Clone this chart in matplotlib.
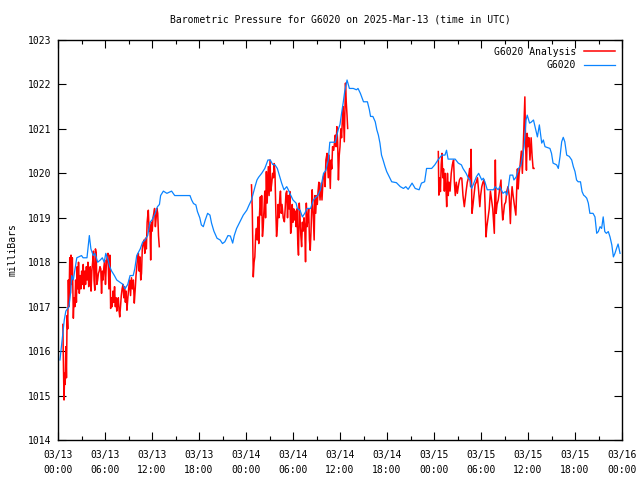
from matplotlib import pyplot as plt
from matplotlib.ticker import MultipleLocator, FixedLocator

# hours since 03/13 00:00 UTC and pressure (mbar)
station_hours = [0.25, 0.5, 0.8, 1.0, 1.4, 1.6, 1.75, 1.95, 2.4, 3.0, 3.2, 3.7, 4.0, 4.2, 4.5, 4.7,
                 5.07, 5.4, 5.66, 5.9, 6.1, 6.4, 6.6, 6.85, 7.2, 7.5, 7.9, 8.3, 8.55, 8.9, 9.2, 9.6,
                 9.8, 10.05, 10.5, 10.8, 11.1, 11.45, 11.75, 12.0, 12.4, 12.7, 12.95, 13.1, 13.45,
                 13.9, 14.5, 14.9, 15.6, 16.2, 16.85, 17.06, 17.3, 17.6, 17.8, 18.1, 18.3, 18.55,
                 18.8, 19.1, 19.4, 19.6, 19.9, 20.3, 20.7, 21.0, 21.3, 21.7, 22.0, 22.3, 22.5, 22.8,
                 23.2, 23.65, 24.1, 24.4, 24.7, 25.15, 25.4, 25.6, 26.0, 26.4, 26.8, 27.1, 27.4,
                 27.7, 28.0, 28.25, 28.55, 28.85, 29.2, 29.4, 29.6, 30.0, 30.4, 30.55, 30.9, 31.2,
                 31.5, 31.8, 32.25, 32.6, 32.8, 33.2, 33.5, 33.9, 34.2, 34.5, 34.7, 35.4, 35.6,
                 35.8, 36.0, 36.2, 36.4, 36.6, 36.9, 37.2, 37.7, 38.1, 38.3, 38.6, 39.0, 39.5,
                 39.75, 39.9, 40.2, 40.5, 40.7, 40.9, 41.1, 41.3, 41.5, 41.75, 41.96, 42.3, 42.6,
                 43.2, 43.7, 44.1, 44.4, 44.7, 45.2, 45.6, 46.1, 46.4, 46.8, 47.05, 47.7, 48.1,
                 48.5, 49.0, 49.4, 49.6, 49.8, 50.7, 51.1, 51.5, 51.7, 52.1, 52.4, 52.6, 52.8,
                 53.0, 53.4, 53.7, 54.1, 54.3, 54.5, 54.8, 55.6, 55.8, 56.2, 56.4, 56.8, 57.1,
                 57.3, 57.5, 57.7, 58.05, 58.2, 58.5, 58.8, 59.1, 59.3, 59.5, 59.75, 59.9, 60.2,
                 60.4, 60.7, 60.9, 61.2, 61.45, 61.75, 61.96, 62.17, 62.8, 63.0, 63.2, 63.66,
                 63.87, 64.09, 64.3, 64.5, 64.7, 64.94, 65.27, 65.58, 65.79, 66.0, 66.2, 66.4,
                 66.7, 66.9, 67.1, 67.3, 67.5, 67.7, 67.9, 68.3, 68.55, 68.77, 68.98, 69.2, 69.4,
                 69.6, 69.8, 70.0, 70.25, 70.47, 70.7, 70.9, 71.1, 71.3, 71.5, 71.75]
station_mbar = [1015.8, 1016.2, 1016.7, 1016.9, 1017.0, 1017.3, 1017.7, 1017.6, 1018.1, 1018.15,
                1018.1, 1018.1, 1018.6, 1018.3, 1018.15, 1018.2, 1018.0, 1018.05, 1018.1, 1018.0,
                1018.2, 1018.05, 1017.9, 1017.8, 1017.7, 1017.6, 1017.55, 1017.5, 1017.4, 1017.5,
                1017.7, 1017.7, 1017.85, 1018.15, 1018.3, 1018.45, 1018.5, 1018.6, 1018.9, 1018.95,
                1019.1, 1019.25, 1019.3, 1019.5, 1019.6, 1019.55, 1019.6, 1019.5, 1019.5, 1019.5,
                1019.5, 1019.4, 1019.32, 1019.29, 1019.14, 1019.0, 1018.84, 1018.8, 1018.95,
                1019.1, 1019.06, 1018.88, 1018.7, 1018.54, 1018.5, 1018.42, 1018.46, 1018.6,
                1018.59, 1018.43, 1018.6, 1018.76, 1018.9, 1019.06, 1019.17, 1019.29, 1019.4,
                1019.7, 1019.85, 1019.91, 1020.0, 1020.11, 1020.3, 1020.3, 1020.2, 1020.19,
                1020.11, 1019.96, 1019.78, 1019.63, 1019.7, 1019.63, 1019.55, 1019.4, 1019.33,
                1019.21, 1019.17, 1019.02, 1019.1, 1019.21, 1019.21, 1019.4, 1019.44, 1019.51,
                1019.63, 1020.0, 1020.07, 1020.3, 1020.7, 1020.7, 1020.86, 1021.0, 1021.1,
                1021.35, 1021.58, 1021.84, 1022.1, 1021.91, 1021.91, 1021.88, 1021.91, 1021.8,
                1021.61, 1021.61, 1021.43, 1021.28, 1021.28, 1021.16, 1020.98, 1020.86, 1020.68,
                1020.41, 1020.3, 1020.15, 1020.04, 1019.92, 1019.81, 1019.79, 1019.7, 1019.66,
                1019.7, 1019.64, 1019.78, 1019.66, 1019.63, 1019.78, 1019.81, 1020.11, 1020.11,
                1020.19, 1020.3, 1020.41, 1020.41, 1020.52, 1020.32, 1020.32, 1020.23, 1020.19,
                1020.11, 1020.0, 1019.89, 1019.85, 1019.66, 1019.74, 1019.92, 1020.0, 1019.85,
                1019.89, 1019.81, 1019.63, 1019.63, 1019.7, 1019.63, 1019.7, 1019.55, 1019.59,
                1019.51, 1019.7, 1019.96, 1019.96, 1019.85, 1019.92, 1020.11, 1020.19, 1020.38,
                1020.6, 1021.2, 1021.31, 1021.13, 1021.15, 1021.2, 1021.05, 1020.82, 1021.09,
                1020.68, 1020.75, 1020.6, 1020.56, 1020.45, 1020.23, 1020.19, 1020.11, 1020.38,
                1020.71, 1020.81, 1020.71, 1020.41, 1020.38, 1020.3, 1020.15, 1020.04, 1019.85,
                1019.81, 1019.81, 1019.59, 1019.51, 1019.48, 1019.44, 1019.33, 1019.1, 1019.1,
                1019.02, 1018.65, 1018.69, 1018.8, 1018.76, 1019.02, 1018.69, 1018.65, 1018.69,
                1018.57, 1018.39, 1018.12, 1018.2, 1018.31, 1018.41, 1018.2]

# analysis run 1 (03/13 morning)
an1_hours = [0.62, 0.7, 0.77, 0.85, 0.92, 1.0, 1.08, 1.16, 1.24, 1.32, 1.4, 1.5, 1.58, 1.66, 1.74,
             1.83, 1.96, 2.05, 2.15, 2.25, 2.35, 2.45, 2.55, 2.62, 2.72, 2.82, 2.92, 3.02, 3.12,
             3.22, 3.32, 3.42, 3.52, 3.62, 3.72, 3.82, 3.92, 4.02, 4.12, 4.22, 4.32, 4.42, 4.52,
             4.6, 4.7, 4.78, 4.88, 4.96, 5.06, 5.16, 5.26, 5.36, 5.46, 5.56, 5.66, 5.76, 5.86,
             5.96, 6.06, 6.16, 6.26, 6.38, 6.5, 6.62, 6.72, 6.82, 6.92, 7.02, 7.12, 7.22, 7.32,
             7.42, 7.5, 7.6, 7.7, 7.8, 7.88, 7.98, 8.08, 8.18, 8.3, 8.4, 8.5, 8.6, 8.7, 8.8,
             8.92, 9.02, 9.14, 9.26, 9.38, 9.5, 9.62, 9.74, 9.86, 9.96, 10.06, 10.16, 10.26,
             10.36, 10.46, 10.56, 10.66, 10.76, 10.88, 10.98, 11.08, 11.18, 11.28, 11.38, 11.46,
             11.53, 11.63, 11.73, 11.83, 11.93, 12.03, 12.13, 12.23, 12.33, 12.43, 12.53, 12.63,
             12.73, 12.83, 12.93]
an1_mbar = [1016.6, 1015.6, 1014.9, 1015.5, 1015.25, 1016.1, 1015.4, 1016.8, 1016.5, 1017.6,
            1017.0, 1018.1, 1017.3, 1018.16, 1017.5, 1018.1, 1016.74, 1017.2, 1017.0, 1017.6,
            1017.1, 1017.9, 1017.4, 1018.0, 1017.3, 1017.7, 1017.4, 1017.8, 1017.5, 1017.95,
            1017.4, 1017.8, 1017.5, 1017.9, 1017.6, 1018.0, 1017.45, 1017.7, 1017.9, 1017.35,
            1017.8, 1018.0, 1018.25, 1017.6, 1017.37, 1018.3, 1018.2, 1017.5, 1017.6, 1017.75,
            1017.8, 1017.9, 1017.85, 1017.3, 1017.8, 1017.6, 1017.9, 1018.05, 1017.5, 1017.9,
            1018.1, 1018.2, 1017.4, 1018.16, 1016.96, 1017.2, 1017.0, 1017.35, 1017.1, 1017.45,
            1017.0, 1017.2, 1016.9, 1017.05, 1017.2, 1016.9, 1016.77, 1017.0, 1017.25, 1017.4,
            1017.5, 1017.2, 1017.45, 1017.1, 1017.35, 1016.92, 1017.2, 1017.4, 1017.6, 1017.25,
            1017.65, 1017.4, 1017.6, 1017.08, 1017.4, 1017.7, 1017.9, 1018.1, 1018.2, 1017.8,
            1018.12, 1017.6, 1017.75, 1018.3, 1018.43, 1018.5, 1018.2, 1018.54, 1018.3, 1018.9,
            1019.05, 1019.17, 1018.7, 1018.84, 1018.05, 1018.9, 1018.7, 1019.0, 1019.1, 1019.21,
            1018.8, 1019.0, 1019.21, 1019.1, 1018.6, 1018.35]

# analysis run 2 (03/14 morning)
an2_hours = [24.7, 24.8, 24.93, 25.03, 25.13, 25.23, 25.33, 25.43, 25.53, 25.63, 25.73, 25.83,
             25.93, 26.0, 26.1, 26.2, 26.3, 26.4, 26.5, 26.6, 26.7, 26.85, 26.95, 27.07, 27.17,
             27.3, 27.4, 27.5, 27.6, 27.7, 27.8, 27.9, 28.0, 28.1, 28.2, 28.3, 28.4, 28.5, 28.6,
             28.75, 28.9, 29.0, 29.1, 29.2, 29.3, 29.4, 29.5, 29.6, 29.7, 29.8, 29.9, 30.0, 30.1,
             30.2, 30.3, 30.4, 30.5, 30.6, 30.7, 30.8, 30.9, 31.0, 31.1, 31.2, 31.3, 31.4, 31.5,
             31.6, 31.7, 31.8, 31.9, 32.0, 32.1, 32.2, 32.3, 32.45, 32.55, 32.7, 32.8, 32.9,
             33.0, 33.1, 33.2, 33.3, 33.45, 33.6, 33.7, 33.85, 34.0, 34.1, 34.2, 34.35, 34.5,
             34.6, 34.76, 34.85, 34.95, 35.05, 35.2, 35.3, 35.4, 35.5, 35.6, 35.7, 35.8, 35.9,
             36.0, 36.1, 36.2, 36.3, 36.4, 36.55, 36.7, 36.8, 36.9, 36.98]
an2_mbar = [1019.74, 1019.2, 1017.67, 1018.0, 1018.12, 1018.6, 1018.76, 1018.5, 1019.02, 1018.42,
            1019.1, 1019.47, 1019.06, 1019.5, 1018.58, 1018.8, 1019.2, 1019.6, 1019.0, 1020.04,
            1019.33, 1020.15, 1019.5, 1020.3, 1019.6, 1019.8, 1020.0, 1019.9, 1020.22, 1020.0,
            1019.2, 1018.58, 1018.8, 1019.3, 1019.0, 1019.4, 1019.6, 1019.1, 1019.3, 1019.0,
            1018.91, 1019.2, 1019.55, 1019.6, 1019.0, 1019.5, 1019.2, 1019.59, 1018.65, 1018.8,
            1019.3, 1018.9, 1019.2, 1018.95, 1019.15, 1018.8, 1019.2, 1018.5, 1018.16, 1019.33,
            1019.0, 1018.6, 1018.35, 1018.9, 1018.7, 1019.0, 1018.8, 1018.01, 1019.33, 1018.8,
            1019.0, 1019.2, 1018.5, 1018.27, 1018.7, 1019.63, 1019.2, 1018.5, 1019.5, 1019.1,
            1019.5, 1019.3, 1019.6, 1019.8, 1019.4, 1019.78, 1019.4, 1019.9, 1020.0, 1019.7,
            1020.3, 1020.45, 1019.9, 1020.41, 1019.66, 1020.3, 1020.1, 1020.6, 1020.52, 1020.7,
            1020.86, 1020.6, 1021.05, 1020.7, 1019.85, 1020.4, 1020.6, 1021.0, 1020.8, 1021.2,
            1021.5, 1020.71, 1022.03, 1021.6, 1021.3, 1021.01]

# analysis run 3 (03/15 morning)
an3_hours = [48.55, 48.62, 48.72, 48.82, 48.92, 49.02, 49.12, 49.22, 49.32, 49.42, 49.52, 49.62,
             49.72, 49.82, 49.92, 50.05, 50.2, 50.35, 50.5, 50.6, 50.72, 50.85, 50.98, 51.1,
             51.25, 51.4, 51.55, 51.7, 51.87, 51.97, 52.1, 52.25, 52.4, 52.55, 52.68, 52.73,
             52.85, 52.95, 53.1, 53.25, 53.4, 53.55, 53.7, 53.85, 53.95, 54.1, 54.25, 54.4,
             54.52, 54.64, 54.75, 54.9, 55.05, 55.2, 55.35, 55.5, 55.7, 55.83, 55.93, 56.05,
             56.2, 56.35, 56.55, 56.65, 56.77, 56.88, 57.0, 57.15, 57.3, 57.45, 57.6, 57.75,
             57.85, 57.97, 58.1, 58.25, 58.45, 58.55, 58.65, 58.75, 58.87, 59.0, 59.15, 59.28,
             59.45, 59.6, 59.7, 59.8, 59.9, 60.0, 60.12, 60.25, 60.4, 60.52, 60.65, 60.77]
an3_mbar = [1020.49, 1019.51, 1019.9, 1019.59, 1020.2, 1020.45, 1019.9, 1020.1, 1019.6, 1020.0,
            1019.7, 1019.25, 1020.0, 1019.5, 1019.8, 1019.6, 1020.0, 1020.2, 1020.3, 1019.8,
            1019.5, 1019.8, 1019.55, 1019.7, 1019.85, 1019.9, 1019.89, 1019.5, 1019.25, 1019.4,
            1019.6, 1019.8, 1019.9, 1020.11, 1019.7, 1020.54, 1019.1, 1019.25, 1019.5, 1019.75,
            1019.8, 1019.9, 1019.6, 1019.25, 1019.5, 1019.7, 1019.8, 1019.85, 1019.3, 1018.57,
            1018.8, 1019.0, 1019.2, 1019.6, 1019.4, 1019.2, 1018.65, 1020.3, 1019.1, 1019.3,
            1019.4, 1019.6, 1019.85, 1019.3, 1018.95, 1019.1, 1019.3, 1019.35, 1019.6, 1019.7,
            1019.5, 1018.87, 1019.4, 1019.7, 1019.5, 1019.3, 1019.06, 1019.6, 1020.1, 1019.65,
            1020.0, 1020.2, 1020.5, 1020.0, 1020.9, 1021.72, 1020.6, 1020.07, 1020.9, 1020.6,
            1020.8, 1020.3, 1020.8, 1020.4, 1020.11, 1020.11]

tick_hours = list(range(0, 73, 6))
tick_labels = ['03/13\n00:00', '03/13\n06:00', '03/13\n12:00', '03/13\n18:00',
               '03/14\n00:00', '03/14\n06:00', '03/14\n12:00', '03/14\n18:00',
               '03/15\n00:00', '03/15\n06:00', '03/15\n12:00', '03/15\n18:00',
               '03/16\n00:00']

plt.rcParams['font.family'] = ['DejaVu Sans Mono']
plt.rcParams['font.size'] = 7

fig = plt.figure(figsize=(6.4, 4.8), dpi=100)
ax = fig.add_axes([58 / 640, 40 / 480, 564 / 640, 400 / 480])

ax.plot(an1_hours, an1_mbar, color='#ff0000', linewidth=1.1, label='G6020 Analysis')
ax.plot(an2_hours, an2_mbar, color='#ff0000', linewidth=1.1)
ax.plot(an3_hours, an3_mbar, color='#ff0000', linewidth=1.1)
ax.plot(station_hours, station_mbar, color='#0a84ff', linewidth=0.9, label='G6020')

ax.set_xlim(0, 72)
ax.set_ylim(1014, 1023)
ax.xaxis.set_major_locator(FixedLocator(tick_hours))
ax.set_xticklabels(tick_labels)
for t in ax.get_xticklabels():
    t.set_linespacing(1.7)
ax.xaxis.set_minor_locator(MultipleLocator(3))
ax.yaxis.set_major_locator(MultipleLocator(1))
ax.tick_params(which='both', direction='in', top=True, right=True, width=0.8, colors='black')
ax.tick_params(which='major', length=6, pad=5)
ax.tick_params(axis='x', which='major', pad=7)
ax.tick_params(which='minor', length=3)
for s in ax.spines.values():
    s.set_linewidth(1.0)

# gnuplot centres the title over the plot area
fig.text(340 / 640, 1 - 20 / 480, 'Barometric Pressure for G6020 on 2025-Mar-13 (time in UTC)',
         ha='center', va='center')
fig.text(13 / 640, 1 - 250 / 480, 'milliBars', rotation=90, ha='center', va='center')

ax.legend(loc='upper right', frameon=False, markerfirst=False, handlelength=3.2,
          borderaxespad=0.3, labelspacing=0.35, handletextpad=0.8)

plt.savefig('out.png', dpi=100)
plt.close()
